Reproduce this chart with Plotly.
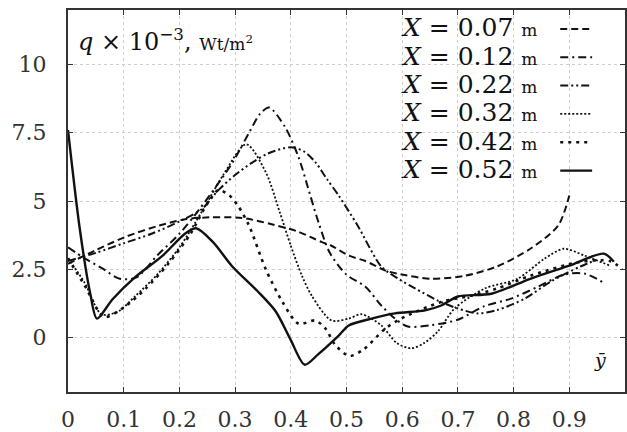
import plotly.graph_objects as go

# ---------------- data ----------------
labels = ["0.07", "0.12", "0.22", "0.32", "0.42", "0.52"]

x_007 = [0, 0.05, 0.105, 0.164, 0.2125, 0.254, 0.3125, 0.384, 0.414, 0.455, 0.473, 0.504, 0.534, 0.57, 0.593,
         0.652, 0.7125, 0.77, 0.83, 0.88, 0.90]
y_007 = [2.7, 3.2, 3.7, 4.1, 4.34, 4.4, 4.38, 4.05, 3.87, 3.5, 3.36, 3.0, 2.8, 2.45, 2.33,
         2.15, 2.26, 2.6, 3.25, 4.1, 5.2]

x_012 = [0, 0.03, 0.06, 0.093, 0.123, 0.16, 0.2, 0.236, 0.295, 0.325, 0.345, 0.361, 0.39, 0.414, 0.435, 0.45,
         0.47, 0.5, 0.534, 0.5625, 0.587, 0.61, 0.652, 0.70, 0.748, 0.795, 0.843, 0.89, 0.927, 0.962]
y_012 = [3.3, 2.9, 2.55, 2.15, 2.2, 3.0, 3.8, 4.7, 6.4, 7.5, 8.2, 8.43, 7.7, 6.6, 5.2, 4.2,
         3.1, 2.3, 1.86, 1.17, 0.69, 0.4, 0.45, 0.65, 1.15, 1.42, 1.85, 2.3, 2.34, 2.0]

x_022 = [0, 0.05, 0.1, 0.15, 0.2, 0.24, 0.27, 0.3, 0.33, 0.36, 0.40, 0.425, 0.445, 0.465, 0.486, 0.52,
         0.5625, 0.593, 0.623, 0.664, 0.70, 0.736, 0.77, 0.82, 0.866, 0.92, 0.95]
y_022 = [2.8, 3.1, 3.45, 3.8, 4.25, 4.7, 5.4, 5.95, 6.4, 6.75, 6.97, 6.8, 6.4, 5.8, 5.2, 4.1,
         2.6, 2.15, 1.8, 1.35, 1.06, 0.88, 1.0, 1.42, 2.04, 2.6, 2.85]

x_032 = [0, 0.03, 0.06, 0.09, 0.12, 0.16, 0.2, 0.24, 0.28, 0.32, 0.355, 0.38, 0.40, 0.42, 0.4375, 0.473,
         0.504, 0.527, 0.5625, 0.59, 0.616, 0.64, 0.664, 0.694, 0.748, 0.807, 0.855, 0.89, 0.927, 0.973]
y_032 = [2.9, 2.0, 0.85, 0.95, 1.5, 2.3, 3.3, 4.6, 6.0, 7.08, 6.06, 4.6, 3.36, 2.26, 1.53, 0.62,
         0.69, 0.85, 0.44, -0.2, -0.4, -0.2, 0.22, 1.06, 1.79, 2.15, 2.88, 3.25, 3.0, 2.63]

x_042 = [0, 0.03, 0.065, 0.1, 0.14, 0.18, 0.22, 0.25, 0.27, 0.29, 0.306, 0.325, 0.355, 0.385, 0.414, 0.444,
         0.462, 0.48, 0.505, 0.53, 0.57, 0.598, 0.67, 0.723, 0.77, 0.83, 0.92, 0.973, 0.995]
y_042 = [2.9, 1.9, 0.75, 1.1, 1.8, 2.7, 3.8, 4.9, 5.4, 5.2, 4.8, 4.1, 2.5, 1.3, 0.5, 0.62,
         0.33, -0.28, -0.68, -0.45, 0.33, 0.69, 1.3, 1.53, 1.79, 2.26, 2.77, 2.8, 2.5]

x_052 = [0, 0.021, 0.04, 0.052, 0.08, 0.12, 0.17, 0.21, 0.23, 0.26, 0.295, 0.34, 0.373, 0.40, 0.425, 0.45,
         0.486, 0.504, 0.545, 0.587, 0.641, 0.67, 0.70, 0.76, 0.83, 0.90, 0.962, 0.98]
y_052 = [7.6, 4.0, 1.6, 0.69, 1.4, 2.2, 3.0, 3.8, 4.0, 3.5, 2.6, 1.7, 0.95, -0.1, -1.0, -0.6,
         0.07, 0.44, 0.69, 0.88, 0.99, 1.17, 1.5, 1.6, 2.15, 2.63, 3.07, 2.77]

xs = [x_007, x_012, x_022, x_032, x_042, x_052]
ys = [y_007, y_012, y_022, y_032, y_042, y_052]

x_ticks = [0, 0.1, 0.2, 0.3, 0.4, 0.5, 0.6, 0.7, 0.8, 0.9, 1]
x_ticktext = ["0", "0.1", "0.2", "0.3", "0.4", "0.5", "0.6", "0.7", "0.8", "0.9", "1"]
y_ticks = [0, 2.5, 5, 7.5, 10]
y_ticktext = ["0", "2.5", "5", "7.5", "10"]

# ---------------- styles ----------------
INK = "#111111"
FONT = "DejaVu Serif"
dashes = ["7px,4px", "8px,4px,2px,4px", "8px,3px,2px,3px,2px,3px", "2px,2px", "3px,5px", "solid"]
widths = [2, 2, 2, 1.8, 2.6, 2.4]

fig = go.Figure()
for xv, yv, d, w in zip(xs, ys, dashes, widths):
    fig.add_trace(go.Scatter(x=xv, y=yv, mode="lines",
                             line=dict(color=INK, width=w, dash=d, shape="spline", smoothing=0.8),
                             showlegend=False, hoverinfo="skip"))

# custom legend (text left, sample right) on a white box hiding the grid
L, B, W, H = 68, 38, 559, 384
def px_x(p):
    return (p - L) / W
def px_y(p):
    return (432 - B - p) / H

fig.add_shape(type="rect", xref="paper", yref="paper", layer="between",
              x0=px_x(370), x1=px_x(603), y0=px_y(186), y1=1,
              fillcolor="white", line=dict(width=0))

row_y = [28, 56.5, 85, 113.5, 142, 170.5]
annotations = []
for lab, d, w, ry in zip(labels, dashes, widths, row_y):
    annotations.append(dict(
        x=px_x(541), y=px_y(ry), xref="paper", yref="paper", xanchor="right", yanchor="middle",
        text=f"<i>X</i> = {lab} <span style='font-size:17px'>m</span>", showarrow=False,
        font=dict(family=FONT, size=25, color=INK)))
    fig.add_shape(type="line", xref="paper", yref="paper", layer="above",
                  x0=px_x(562), x1=px_x(594), y0=px_y(ry + 1), y1=px_y(ry + 1),
                  line=dict(color=INK, width=w, dash=d))

annotations.append(dict(
    x=px_x(76), y=px_y(40), xref="paper", yref="paper", xanchor="left", yanchor="middle",
    text="<i>q</i> × 10<sup>−3</sup>, <span style='font-size:17px'>Wt/m<sup>2</sup></span>",
    showarrow=False, font=dict(family=FONT, size=24, color=INK)))
annotations.append(dict(
    x=px_x(602), y=px_y(362), xref="paper", yref="paper", xanchor="center", yanchor="middle",
    text="<i>ȳ</i>", showarrow=False, font=dict(family=FONT, size=19, color=INK)))

axis_common = dict(showline=True, linecolor="#333333", linewidth=2, mirror="ticks",
                   ticks="inside", ticklen=5, tickcolor="#333333", tickwidth=1,
                   showgrid=True, gridcolor="#cfcfcf", griddash="dot", gridwidth=1,
                   zeroline=False, tickfont=dict(family=FONT, size=22, color="#333333"))

fig.update_layout(
    width=627, height=432,
    margin=dict(l=L, r=627 - L - W, t=432 - B - H, b=B),
    paper_bgcolor="white", plot_bgcolor="white",
    font=dict(family=FONT, color=INK),
    annotations=annotations,
    xaxis=dict(range=[0, 1], tickvals=x_ticks, ticktext=x_ticktext, ticklabelstandoff=7, **axis_common),
    yaxis=dict(range=[-2, 12], tickvals=y_ticks, ticktext=y_ticktext, ticklabelstandoff=15, **axis_common),
)

fig.write_html("out.html")
